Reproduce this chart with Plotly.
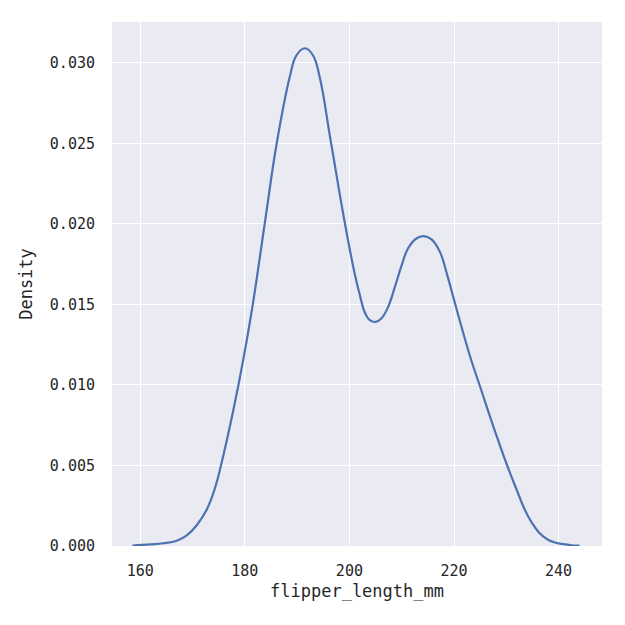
import plotly.graph_objects as go

# Values
flipper_length_mm = [158.5, 162.0, 164.4, 167.0, 168.9, 170.8, 172.7, 174.3, 175.4, 177.8,
                     179.8, 181.5, 183.8, 186.1, 188.6, 189.9, 191.5, 193.0, 194.3, 196.5,
                     199.1, 201.0, 202.0, 202.9, 203.9, 205.0, 206.1, 207.4, 208.7, 210.0,
                     211.2, 212.8, 214.2, 215.7, 217.3, 218.8, 220.1, 221.7, 223.3, 224.9,
                     228.4, 231.6, 234.8, 237.9, 242.1, 244.0]
density = [0.00003, 0.0001, 0.00017, 0.00033, 0.00066, 0.00129, 0.00225, 0.0036, 0.00495, 0.00843,
           0.01174, 0.01495, 0.0200, 0.0250, 0.02913, 0.03048, 0.0309, 0.03048, 0.02913, 0.0250,
           0.0201, 0.01692, 0.01557, 0.01453, 0.01402, 0.01391, 0.01412, 0.01484, 0.01609, 0.01743,
           0.01847, 0.01909, 0.01924, 0.01903, 0.01826, 0.01671, 0.01517, 0.0133, 0.01153, 0.00998,
           0.0066, 0.0038, 0.00149, 0.0004, 0.00006, 0.00002]

x_ticks = [160, 180, 200, 220, 240]
y_ticks = [0.000, 0.005, 0.010, 0.015, 0.020, 0.025, 0.030]

FONT = "DejaVu Sans Mono, monospace"

fig = go.Figure()
fig.add_trace(go.Scatter(
    x=flipper_length_mm, y=density, mode="lines",
    line=dict(color="#4C72B0", width=2.2, shape="spline", smoothing=1.2),
    hoverinfo="skip", showlegend=False,
))

fig.update_layout(
    width=625, height=625,
    margin=dict(l=104, r=31, t=14, b=87),
    paper_bgcolor="white", plot_bgcolor="#EAEAF2",
    font=dict(family=FONT, size=15, color="#262626"),
    showlegend=False,
)
fig.update_xaxes(
    range=[154.6, 248.3], tickvals=x_ticks, ticktext=[str(v) for v in x_ticks],
    showgrid=True, gridcolor="white", gridwidth=1.4, zeroline=False, showline=False,
    ticks="", ticklabelstandoff=14,
    title=dict(text="flipper_length_mm", font=dict(family=FONT, size=17, color="#262626"), standoff=6),
)
fig.update_yaxes(
    range=[0, 0.03253], tickvals=y_ticks, ticktext=[f"{v:.3f}" for v in y_ticks],
    showgrid=True, gridcolor="white", gridwidth=1.4, zeroline=False, showline=False,
    ticks="", ticklabelstandoff=16,
    title=dict(text="Density", font=dict(family=FONT, size=17, color="#262626"), standoff=12),
)

fig.write_html("out.html")
